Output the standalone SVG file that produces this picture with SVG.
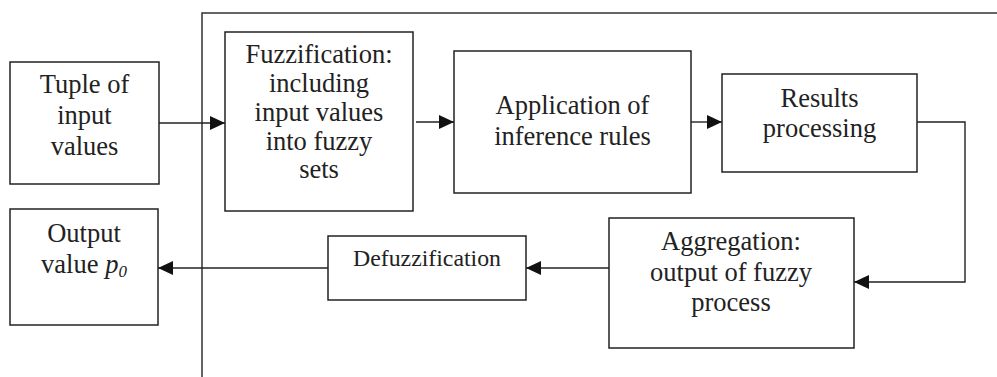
<svg xmlns="http://www.w3.org/2000/svg" width="997" height="377" viewBox="0 0 997 377">
<style>
.box{fill:#fff;stroke:#222;stroke-width:1.5}
.lbl{font-family:"Liberation Serif","Times New Roman",serif;font-size:26.5px;fill:#222;text-anchor:middle}
.sm{font-size:23.8px}
.con{fill:none;stroke:#222;stroke-width:1.4}
.frame{fill:none;stroke:#333;stroke-width:1.5}
</style>
<defs>
<marker id="arr" markerUnits="userSpaceOnUse" markerWidth="16" markerHeight="15" refX="15" refY="7" orient="auto">
<path d="M0,0 L15,7 L0,14 z" fill="#111"/>
</marker>
</defs>
<rect width="997" height="377" fill="#fff"/>
<path class="frame" d="M202,377 V13 H997"/>
<g id="tuple">
<rect class="box" x="10" y="62" width="149" height="122"/>
<text class="lbl" x="84.5" y="93">Tuple of</text>
<text class="lbl" x="84.5" y="124">input</text>
<text class="lbl" x="84.5" y="155">values</text>
</g>
<g id="fuzzification">
<rect class="box" x="225" y="32" width="188" height="179"/>
<text class="lbl" x="319" y="63">Fuzzification:</text>
<text class="lbl" x="319" y="92">including</text>
<text class="lbl" x="319" y="121">input values</text>
<text class="lbl" x="319" y="150">into fuzzy</text>
<text class="lbl" x="319" y="178">sets</text>
</g>
<g id="application">
<rect class="box" x="454" y="51" width="237" height="142"/>
<text class="lbl" x="572.5" y="114">Application of</text>
<text class="lbl" x="572.5" y="145">inference rules</text>
</g>
<g id="results">
<rect class="box" x="722" y="74" width="195" height="98"/>
<text class="lbl" x="819.5" y="107">Results</text>
<text class="lbl" x="819.5" y="137">processing</text>
</g>
<g id="aggregation">
<rect class="box" x="609" y="218" width="245" height="130"/>
<text class="lbl" x="731" y="250">Aggregation:</text>
<text class="lbl" x="731" y="281">output of fuzzy</text>
<text class="lbl" x="731" y="311">process</text>
</g>
<g id="defuzzification">
<rect class="box" x="328" y="236" width="198" height="64"/>
<text class="lbl sm" x="427" y="266">Defuzzification</text>
</g>
<g id="output">
<rect class="box" x="10" y="209" width="148" height="116"/>
<text class="lbl" x="84" y="242">Output</text>
<text class="lbl" x="84" y="273">value <tspan font-style="italic">p</tspan><tspan font-style="italic" font-size="17" dy="4">0</tspan></text>
</g>
<g id="connectors">
<path class="con" d="M159,123 H225" marker-end="url(#arr)"/>
<path class="con" d="M416,122 H454" marker-end="url(#arr)"/>
<path class="con" d="M691,122 H722" marker-end="url(#arr)"/>
<path class="con" d="M917,122 H965 V282 H854" marker-end="url(#arr)"/>
<path class="con" d="M609,268 H526" marker-end="url(#arr)"/>
<path class="con" d="M328,268 H158" marker-end="url(#arr)"/>
</g>
</svg>
